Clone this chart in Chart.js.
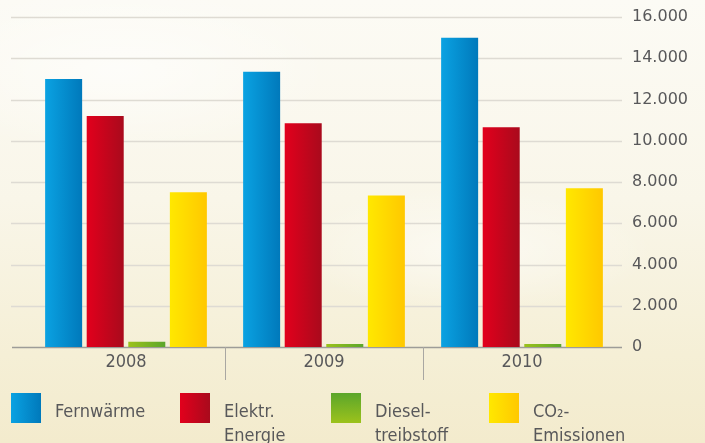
<!DOCTYPE html>
<html lang="de">
<head>
<meta charset="utf-8">
<script src="https://cdn.jsdelivr.net/npm/chart.js@4"></script>
<style>
  html, body { margin: 0; padding: 0; }
  body {
    width: 705px; height: 443px; overflow: hidden; position: relative;
    background:
      radial-gradient(ellipse 260px 90px at 470px 250px, rgba(255,255,255,0.55), rgba(255,255,255,0) 70%),
      radial-gradient(ellipse 300px 120px at 120px 70px, rgba(255,255,255,0.6), rgba(255,255,255,0) 70%),
      linear-gradient(#fcfbf5 0%, #f9f6e9 45%, #f5efd6 80%, #f3ebcd 100%);
  }
  #wrap { position: absolute; left: 0; top: 0; width: 705px; height: 443px; }
  #legend { position: absolute; left: 0; top: 393px; width: 705px; height: 50px; }
  .item { position: absolute; top: 0; }
  .box { position: absolute; left: 0; top: 0; width: 30px; height: 30px; }
  .txt {
    position: absolute; left: 44px; top: 6px; white-space: nowrap;
    font-family: "DejaVu Sans Condensed", "Liberation Sans Narrow", sans-serif;
    font-stretch: condensed; font-size: 18px; line-height: 24px; color: #58585a;
  }
</style>
</head>
<body>
<div id="wrap"><canvas id="c" width="705" height="443"></canvas></div>
<div id="legend"></div>
<script>
// Jahreswerte
const years = ['2008', '2009', '2010'];
const fernwaerme = [13000, 13350, 15000];
const elektrEnergie = [11200, 10850, 10650];
const dieselTreibstoff = [250, 150, 150];
const co2Emissionen = [7500, 7350, 7700];

const seriesNames = [['Fernwärme'], ['Elektr.', 'Energie'], ['Diesel-', 'treibstoff'], ['CO₂-', 'Emissionen']];
const yTicks = [0, 2000, 4000, 6000, 8000, 10000, 12000, 14000, 16000];

// left -> right shades of each bar
const shades = [
  ['#0aa2e2', '#0079bb'],
  ['#e2001c', '#a90a1c'],
  ['#9cc21c', '#5ba62b'],
  ['#ffe800', '#ffc800']
];

const CAT_PCT = 0.84;
const BAR_PCT = 0.89;

function barGradient(ctx) {
  const chart = ctx.chart;
  const x = chart.scales.x;
  const solid = shades[ctx.datasetIndex][0];
  if (!x || ctx.type !== 'data' || !isFinite(x.width) || !x.width) return solid;
  const n = chart.data.datasets.length;
  const slot = (x.width / years.length) * CAT_PCT / n;
  const centre = x.getPixelForValue(ctx.dataIndex) + (ctx.datasetIndex - (n - 1) / 2) * slot;
  const half = slot * BAR_PCT / 2;
  if (!isFinite(centre) || !isFinite(half)) return solid;
  const g = chart.ctx.createLinearGradient(centre - half, 0, centre + half, 0);
  g.addColorStop(0, shades[ctx.datasetIndex][0]);
  g.addColorStop(1, shades[ctx.datasetIndex][1]);
  return g;
}

const fmt = v => v === 0 ? '0' : v.toLocaleString('de-DE');

// horizontal grid across the full width plus the year separators below the axis
const gridPlugin = {
  id: 'grid',
  beforeDatasetsDraw(chart) {
    const { ctx, scales: { y, x } } = chart;
    ctx.save();
    yTicks.forEach(v => {
      const py = Math.round(y.getPixelForValue(v)) + 0.5;
      ctx.beginPath();
      ctx.lineWidth = 1.5;
      ctx.strokeStyle = v === 0 ? '#9d9c98' : '#dedbd3';
      ctx.moveTo(v === 0 ? 12 : 11, py);
      ctx.lineTo(622, py);
      ctx.stroke();
    });
    const cw = x.width / years.length;
    for (let i = 1; i < years.length; i++) {
      const px = Math.round(x.left + cw * i) + 0.5;
      ctx.beginPath();
      ctx.lineWidth = 1;
      ctx.strokeStyle = '#a9a7a2';
      ctx.moveTo(px, y.bottom);
      ctx.lineTo(px, y.bottom + 33);
      ctx.stroke();
    }
    ctx.restore();
  }
};

const chart = new Chart(document.getElementById('c'), {
  type: 'bar',
  data: {
    labels: years,
    datasets: [
      { label: 'Fernwärme', data: fernwaerme },
      { label: 'Elektr. Energie', data: elektrEnergie },
      { label: 'Dieseltreibstoff', data: dieselTreibstoff },
      { label: 'CO₂-Emissionen', data: co2Emissionen }
    ].map(d => Object.assign(d, {
      backgroundColor: barGradient,
      borderWidth: 0,
      categoryPercentage: CAT_PCT,
      barPercentage: BAR_PCT
    }))
  },
  options: {
    responsive: false,
    animation: false,
    layout: { padding: { left: 27, top: 17, right: 0, bottom: 0 } },
    plugins: { legend: { display: false }, tooltip: { enabled: false } },
    scales: {
      x: {
        grid: { display: false, drawTicks: false },
        border: { display: false },
        ticks: {
          padding: 5,
          color: '#58585a',
          font: { family: '"DejaVu Sans Condensed", "Liberation Sans Narrow", sans-serif', size: 18 }
        },
        afterFit(scale) { scale.height = 96; }
      },
      y: {
        position: 'right',
        min: 0,
        max: 16000,
        grid: { display: false, drawTicks: true, tickLength: 8 },
        border: { display: false },
        afterBuildTicks(scale) { scale.ticks = yTicks.map(v => ({ value: v })); },
        afterFit(scale) { scale.width = 84; },
        ticks: {
          padding: 3,
          color: '#58585a',
          font: { family: '"DejaVu Sans", sans-serif', size: 16 },
          callback: v => fmt(v)
        }
      }
    }
  },
  plugins: [gridPlugin]
});

// legend below the chart
const legendX = [11, 180, 331, 489];
const legend = document.getElementById('legend');
seriesNames.forEach((lines, i) => {
  const item = document.createElement('div');
  item.className = 'item';
  item.style.left = legendX[i] + 'px';
  const box = document.createElement('div');
  box.className = 'box';
  box.style.background = i === 2
    ? 'linear-gradient(' + shades[i][1] + ', ' + shades[i][0] + ')'
    : 'linear-gradient(to right, ' + shades[i][0] + ', ' + shades[i][1] + ')';
  const txt = document.createElement('div');
  txt.className = 'txt';
  txt.innerHTML = lines.join('<br>');
  item.appendChild(box);
  item.appendChild(txt);
  legend.appendChild(item);
});
</script>
</body>
</html>
